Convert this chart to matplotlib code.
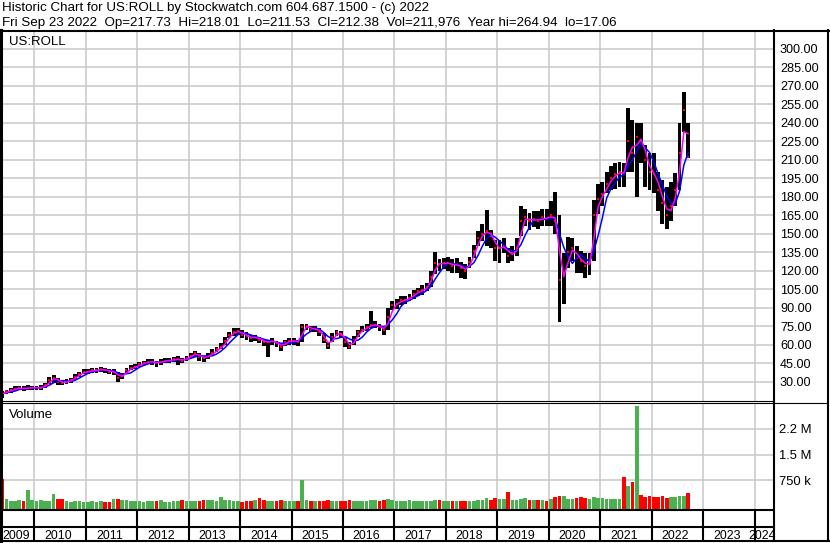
import numpy as np
import pandas as pd
import matplotlib
matplotlib.use("Agg")
import matplotlib.pyplot as plt

plt.rcParams['font.family'] = ['Liberation Sans', 'DejaVu Sans']

# monthly bars, May 2009 .. Sep 2022
close = [
    20, 22, 23, 24, 25, 24, 25, 25,                          # 2009
    25, 25, 27, 31, 33, 30, 29, 30, 31, 34, 36, 38,          # 2010
    38, 39, 39, 40, 39, 38, 38, 33, 35, 39, 41, 42,          # 2011
    44, 45, 46, 46, 45, 46, 47, 47, 48, 48, 47, 49,          # 2012
    51, 53, 50, 49, 51, 53, 56, 58, 63, 68, 70, 71,          # 2013
    68, 67, 65, 66, 64, 62, 62, 63, 61, 58, 62, 63,          # 2014
    63, 62, 74, 75, 72, 73, 70, 64, 59, 66, 70, 68,          # 2015
    62, 58, 64, 70, 72, 74, 76, 76, 74, 72, 82, 92,          # 2016
    93, 96, 96, 98, 101, 103, 104, 107, 115, 126, 125, 126,  # 2017
    126, 124, 125, 122, 120, 127, 136, 146, 150, 152, 148, 138,  # 2018
    138, 140, 132, 134, 138, 160, 163, 160, 162, 160, 163, 162,  # 2019
    165, 160, 112, 118, 135, 138, 130, 128, 124, 126, 165, 178,  # 2020
    182, 190, 195, 198, 200, 198, 225, 215, 228, 225, 210, 200,  # 2021
    198, 185, 175, 165, 172, 185, 215, 250, 212,             # 2022
]
high = [
    22, 23, 25, 26, 26, 26, 27, 26,
    26, 27, 29, 34, 35, 33, 31, 32, 33, 36, 38, 40,
    40, 41, 41, 42, 41, 40, 40, 38, 37, 41, 43, 44,
    46, 47, 48, 48, 47, 48, 49, 49, 50, 51, 49, 51,
    53, 55, 53, 51, 53, 56, 58, 61, 66, 70, 73, 73,
    72, 70, 68, 68, 66, 64, 64, 65, 63, 61, 64, 65,
    65, 64, 77, 77, 75, 75, 73, 69, 62, 69, 72, 71,
    66, 62, 67, 72, 75, 77, 87, 79, 77, 75, 90, 95,
    97, 99, 99, 101, 104, 106, 108, 110, 120, 135, 129, 130,
    131, 129, 130, 127, 125, 131, 141, 152, 158, 169, 153, 145,
    145, 146, 138, 140, 146, 172, 170, 167, 168, 168, 170, 170,
    176, 184, 165, 134, 147, 146, 140, 136, 134, 134, 177, 190,
    192, 200, 205, 207, 208, 207, 252, 242, 240, 240, 222, 215,
    215, 200, 193, 188, 192, 199, 240, 265, 240,
]
low = [
    17, 20, 21, 22, 23, 22, 23, 23,
    23, 23, 25, 28, 29, 27, 27, 28, 29, 31, 34, 36,
    36, 37, 37, 38, 37, 36, 35, 30, 32, 36, 39, 40,
    42, 43, 44, 43, 42, 43, 45, 45, 46, 43, 45, 47,
    49, 50, 47, 46, 48, 51, 54, 56, 60, 65, 67, 68,
    65, 64, 62, 63, 61, 59, 50, 60, 58, 55, 59, 60,
    60, 59, 62, 72, 70, 70, 67, 61, 56, 62, 67, 65,
    58, 56, 60, 66, 70, 71, 73, 73, 71, 68, 72, 88,
    89, 92, 93, 95, 97, 99, 100, 103, 107, 117, 120, 121,
    120, 118, 118, 114, 113, 122, 130, 140, 144, 140, 138, 128,
    126, 134, 126, 128, 132, 148, 156, 153, 155, 154, 156, 156,
    156, 150, 78, 93, 122, 128, 118, 118, 114, 116, 128, 166,
    172, 183, 185, 186, 188, 188, 200, 200, 180, 207, 188, 185,
    183, 168, 158, 154, 160, 172, 185, 232, 211,
]
volume_k = [
    780, 200, 160, 150, 170, 140, 480, 180,
    150, 170, 140, 160, 350, 220, 200, 150, 130, 150, 160, 120,
    130, 150, 130, 140, 120, 130, 200, 210, 190, 180, 160, 140,
    150, 130, 140, 160, 140, 170, 130, 120, 140, 150, 180, 140,
    150, 140, 160, 180, 170, 190, 150, 260, 180, 170, 150, 140,
    130, 150, 140, 190, 240, 170, 150, 140, 160, 180, 150, 140,
    150, 160, 750, 170, 150, 140, 150, 160, 170, 150, 140, 150,
    160, 170, 150, 140, 160, 150, 170, 180, 160, 190, 200, 170,
    160, 150, 140, 170, 160, 150, 140, 150, 160, 180, 170, 150,
    150, 140, 150, 160, 140, 150, 160, 170, 180, 230, 190, 240,
    200, 210, 410, 180, 170, 200, 240, 190, 170, 180, 170, 160,
    200, 260, 300, 280, 220, 200, 240, 270, 230, 200, 260, 240,
    230, 220, 200, 210, 220, 860, 570, 700, 2900, 320, 260, 280,
    260, 270, 300, 250, 260, 270, 300, 280, 370,
]

dates = pd.date_range('2009-05-01', periods=len(close), freq='MS')
xm = dates.year + (dates.month - 0.5) / 12
close_s = pd.Series(close, dtype=float)
ma_fast = close_s.rolling(2, min_periods=1).mean()
ma_slow = close_s.rolling(4, min_periods=1).mean()
up = np.r_[False, np.diff(close) >= 0]
vol = np.array(volume_k) * 1000.0

W, H = 830, 543
fig = plt.figure(figsize=(W / 100, H / 100), dpi=100)

def rect(x0, y0, x1, y1):
    return [x0 / W, 1 - y1 / H, (x1 - x0) / W, (y1 - y0) / H]

XL = (2009.372, 2024.358)
years = np.arange(2010, 2025)
grid_c = '#c8c8c8'

# price panel
ax = fig.add_axes(rect(2, 31, 773, 401))
ax.set_xlim(XL)
ax.set_ylim(14.19, 314.19)
ax.set_xticks(years)
ax.set_yticks(np.arange(30, 301, 15))
ax.set_yticklabels([f'{v:.2f}' for v in np.arange(30, 301, 15)])
ax.yaxis.tick_right()
ax.tick_params(length=0, labelbottom=False, labelsize=9.1, pad=5)
ax.grid(True, color=grid_c, lw=1.1)
ax.set_axisbelow(True)
for s in ax.spines.values():
    s.set_visible(False)
ax.bar(xm, np.array(high) - np.array(low), bottom=low, width=0.9 / 12,
       color='black', linewidth=0, zorder=2)
ax.plot(xm, close, ls='none', marker='s', ms=1.7, mew=0, color='red', zorder=3)
ax.plot(xm, ma_slow, color='#0000ff', lw=1.1, zorder=4)
ax.plot(xm, ma_fast, color='#ff00ff', lw=1.1, zorder=5)

# volume panel
av = fig.add_axes(rect(2, 403, 773, 509))
av.set_xlim(XL)
vbot = -0.084e6
av.set_ylim(vbot, 2.997e6)
av.set_xticks(years)
av.set_yticks([750000, 1500000, 2250000])
av.set_yticklabels(['750 k', '1.5 M', '2.2 M'])
av.yaxis.tick_right()
av.tick_params(length=0, labelbottom=False, labelsize=9.4, pad=4)
av.grid(True, color=grid_c, lw=1.1)
av.set_axisbelow(True)
for s in av.spines.values():
    s.set_visible(False)
av.bar(xm, vol - vbot, bottom=vbot, width=0.85 / 12,
       color=np.where(up, '#4caf50', '#ff0000'), linewidth=0, zorder=2)

# year band
ab = fig.add_axes(rect(2, 509, 773, 541))
ab.set_xlim(XL)
ab.set_ylim(0, 1)
ab.axis('off')
ab.vlines(years, 0, 1, color='black', lw=1.5)
ab.axhline((541 - 527) / 32, color='black', lw=1.5)
edges = np.r_[XL[0], years, XL[1]]
for y0, y1, lab in zip(edges[:-1], edges[1:], range(2009, 2025)):
    ab.text((y0 + y1) / 2 - 0.04, 0.06, str(lab), ha='center', va='baseline',
            fontsize=8.9, clip_on=False)

# frame and header
fr = fig.add_axes([0, 0, 1, 1], facecolor='none')
fr.set_xlim(0, W)
fr.set_ylim(H, 0)
fr.axis('off')
lw2 = 1.5
fr.plot([0, W], [30.5, 30.5], color='black', lw=lw2)
fr.plot([1, 1], [30, 541], color='black', lw=2.2)
fr.plot([828, 828], [30, 541], color='black', lw=lw2)
fr.plot([0, W], [541, 541], color='black', lw=lw2)
fr.plot([773.5, 773.5], [30, 541], color='black', lw=lw2)
fr.plot([0, 773], [401, 401], color='black', lw=0.8)
fr.plot([0, 828], [403, 403], color='black', lw=0.8)
fr.plot([0, 773], [509.5, 509.5], color='black', lw=lw2)

FH = 9.6
fr.text(2, 11, 'Historic Chart for US:ROLL by Stockwatch.com 604.687.1500 - (c) 2022',
        fontsize=FH, va='baseline')
fr.text(2, 26, 'Fri Sep 23 2022  Op=217.73  Hi=218.01  Lo=211.53  Cl=212.38  '
        'Vol=211,976  Year hi=264.94  lo=17.06', fontsize=FH, va='baseline')
fr.text(9, 45, 'US:ROLL', fontsize=9.5, va='baseline')
fr.text(9, 418, 'Volume', fontsize=9.5, va='baseline')

fig.savefig('out.png', dpi=100)
